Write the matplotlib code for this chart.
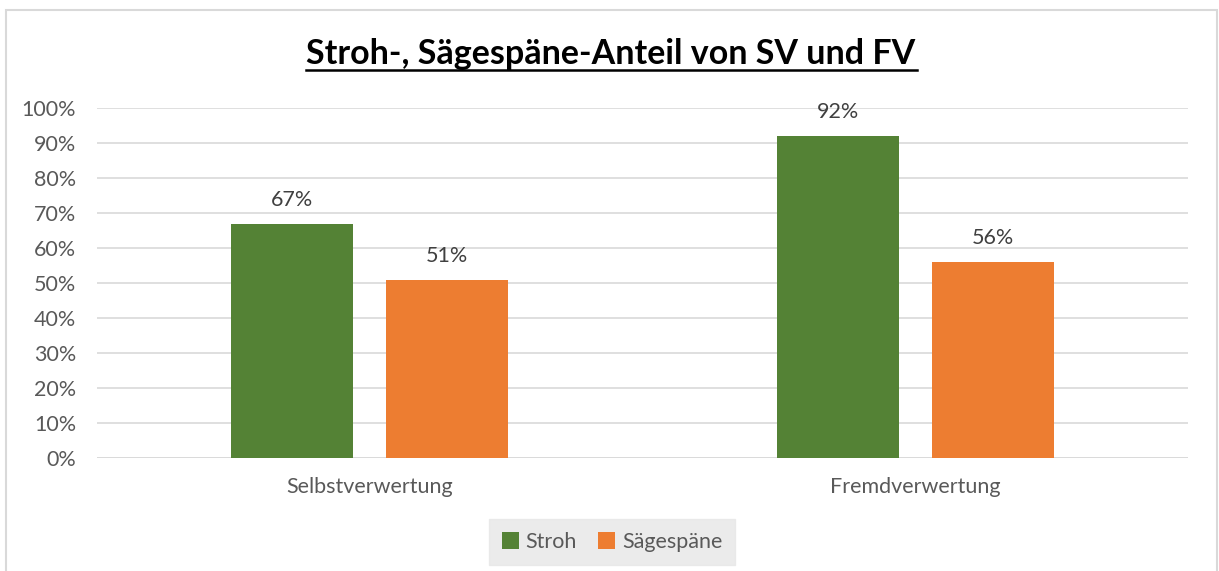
import numpy as np
import matplotlib.pyplot as plt
from matplotlib.patches import Rectangle

plt.rcParams['font.family'] = ['Lato', 'DejaVu Sans']

categories = ['Selbstverwertung', 'Fremdverwertung']
series = ['Stroh', 'Sägespäne']
stroh = [0.67, 0.92]
saegespaene = [0.51, 0.56]
colors = ['#548235', '#ED7D31']
yticks = np.arange(0, 1.01, 0.1)

fig = plt.figure(figsize=(12.19, 5.71), dpi=100)
ax = fig.add_axes([97/1219, 1-458/571, (1188-97)/1219, 350/571])

fs = 15.5
x = np.arange(len(categories))
w = 0.224
gap = 0.06
for i, (vals, name) in enumerate(zip([stroh, saegespaene], series)):
    off = (i - 0.5) * (w + gap)
    ax.bar(x + off, vals, w, color=colors[i], label=name, zorder=3)
    for xi, v in zip(x + off, vals):
        ax.annotate('%d%%' % round(v*100), (xi, v), xytext=(0, 10),
                    textcoords='offset points', ha='center', va='bottom',
                    fontsize=fs, color='#404040')

ax.set_xlim(-0.5, 1.5)
ax.set_ylim(0, 1)
ax.set_yticks(yticks)
ax.set_yticklabels(['%d%%' % round(t*100) for t in yticks])
ax.set_xticks(x)
ax.set_xticklabels(categories)
ax.tick_params(axis='both', length=0, labelsize=fs, colors='#595959')
ax.tick_params(axis='x', pad=14)
ax.tick_params(axis='y', pad=15)
ax.grid(axis='y', color='#D9D9D9', linewidth=1.2, zorder=0)
for s in ax.spines.values():
    s.set_visible(False)
ax.axhline(0, color='#D9D9D9', linewidth=1.2, zorder=2)

fig.text(611/1219, 1-54/571, 'Stroh-, Sägespäne-Anteil von SV und FV', ha='center',
         va='center', fontsize=24.5, fontweight='bold', color='black')
fig.add_artist(plt.Line2D([306/1219, 917/1219], [1-70/571, 1-70/571],
                          color='black', linewidth=1.8))

leg = fig.legend(loc='center', bbox_to_anchor=(612/1219, 1-542/571), ncol=2,
                 frameon=True, fontsize=fs, handlelength=0.8, handleheight=0.8,
                 columnspacing=1.0, handletextpad=0.3, borderpad=0.6)
leg.get_frame().set_facecolor('#E6E6E6')
leg.get_frame().set_edgecolor('#E6E6E6')
leg.get_frame().set_boxstyle('square', pad=0)
for t in leg.get_texts():
    t.set_color('#595959')

fig.add_artist(Rectangle((6/1219, -0.1), (1217-6)/1219, 1.1-10/571,
                         transform=fig.transFigure, fill=False,
                         edgecolor='#D9D9D9', linewidth=1.5))

fig.savefig('out.png', dpi=100)
